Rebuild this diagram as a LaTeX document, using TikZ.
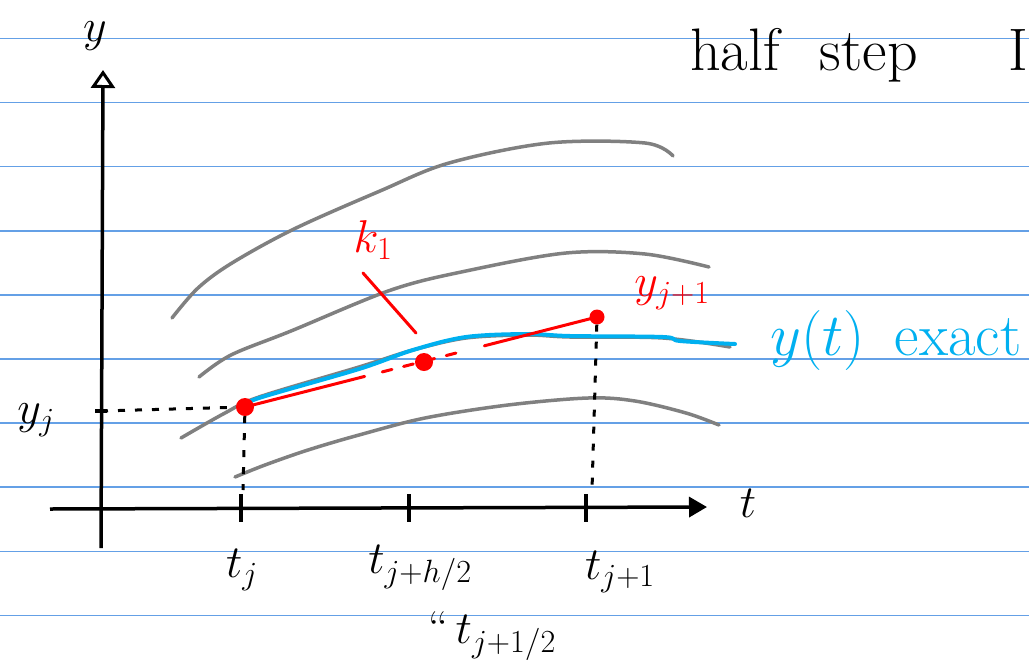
\RequirePackage{fix-cm}
\documentclass[tikz,border=0pt]{standalone}
\usetikzlibrary{arrows.meta,calc}
\definecolor{rulecol}{RGB}{100,160,230}
\definecolor{curvegray}{RGB}{128,128,128}
\definecolor{exactblue}{RGB}{0,176,240}
\definecolor{redpen}{RGB}{255,0,0}
\begin{document}
\begin{tikzpicture}[x=1pt,y=-1pt,
  ruled/.style={rulecol, line width=1.5pt},
  family/.style={curvegray, line width=3.5pt, line cap=round, line join=round},
  exactcurve/.style={exactblue, line width=4pt, line cap=round, line join=round},
  axis/.style={black, line width=3.5pt},
  helper/.style={black, line width=3pt, dash pattern=on 7pt off 10pt},
  redline/.style={redpen, line width=3pt, line cap=round},
  dot/.style={circle, fill=redpen, inner sep=0pt, minimum size=18pt},
  lbl/.style={inner sep=0pt, font=\fontsize{46}{52}\selectfont},
  biglbl/.style={inner sep=0pt, font=\fontsize{60}{66}\selectfont}]
\useasboundingbox (0,0) rectangle (1029,665);
\fill[white] (0,0) rectangle (1029,665);
\foreach \k in {0,...,9} \draw[ruled] (0,{38.5+64.1*\k}) -- (1029,{38.5+64.1*\k});

% family of solution curves
\draw[family] plot[smooth, tension=0.55] coordinates {(172,318) (198,288) (232,263) (294,229) (380,191) (449,163) (549,143) (645,143) (673,156)};
\draw[family] plot[smooth, tension=0.55] coordinates {(199,377) (231,355) (291,331) (391,290) (466,271) (566,253) (645,254) (709,267)};
\draw[family] plot[smooth, tension=0.55] coordinates {(181,438) (225,413) (259,397) (359,367) (413,350) (466,338) (527,335) (570,337) (663,338) (730,347)};
\draw[family] plot[smooth, tension=0.55] coordinates {(235,477) (265,465) (308,450) (359,435) (425,418) (508,405) (588,398) (635,401) (686,413) (719,425)};

% exact solution
\draw[exactcurve] plot[smooth, tension=0.55] coordinates {(245,406) (259,398) (359,369) (413,350) (466,337) (527,334) (570,336) (663,337) (680,341) (735,344)};

% axes
\coordinate (yb) at (101,548);
\coordinate (yt) at (103,70);
\coordinate (tl) at (50,509);
\coordinate (tr) at (707,507);
\draw[axis, -{Triangle[open,length=18pt,width=24pt,line width=3pt]}] (yb) -- (yt);
\draw[axis, -{Triangle[length=18pt,width=20pt]}] (tl) -- (tr);
\node[lbl] (ylab) at (95,36) {$y$};
\node[lbl] (tlab) at (748,503) {$t$};

% ticks
\draw[axis] (241,494) -- (241,522);
\draw[axis] (409,494) -- (409,522);
\draw[axis] (586,494) -- (586,522);
\draw[axis] (95,411) -- (107,411);

% points
\node[dot] (p0) at (245,407) {};
\node[dot] (pm) at (424,362) {};
\node[dot, minimum size=15pt] (p1) at (597,317) {};

% helper dashed lines
\coordinate (yjt) at (101,411);
\coordinate (tjd) at (243,490);
\coordinate (t1d) at (592,490);
\draw[helper] (yjt) -- (p0);
\draw[helper] (p0) -- (tjd);
\draw[helper] (p1) -- (t1d);

% red step line
\draw[redline] (p0.center) -- ($(p0.center)!0.34!(p1.center)$);
\draw[redline, dash pattern=on 10pt off 12pt] ($(p0.center)!0.39!(p1.center)$) -- ($(p0.center)!0.63!(p1.center)$);
\draw[redline] ($(p0.center)!0.68!(p1.center)$) -- (p1.center);

% labels
\node[lbl] (yj) at (36,420) {$y_j$};
\node[lbl, text=redpen] (k1) at (373,240) {$k_1$};
\coordinate (ka) at (363,273);
\coordinate (kb) at (416,333);
\draw[redline] (ka) -- (kb);
\node[lbl, text=redpen] (yj1) at (672,293) {$y_{j+1}$};
\node[biglbl, text=exactblue] (exact) at (896,340) {$y(t)$\hspace{30pt}exact};

\node[lbl] (tj) at (242,570) {$t_j$};
\node[lbl] (tjh) at (420,568) {$t_{j+h/2}$};
\node[lbl] (tj1) at (620,572) {$t_{j+1}$};
\node[lbl] (tjhalf) at (492,636) {``\,$t_{j+1/2}$};

\node[biglbl, anchor=base west] (title) at (690,70) {half\hspace{40pt}step};
\node[biglbl, anchor=base west] (roman) at (1008,70) {I};
\end{tikzpicture}
\end{document}
